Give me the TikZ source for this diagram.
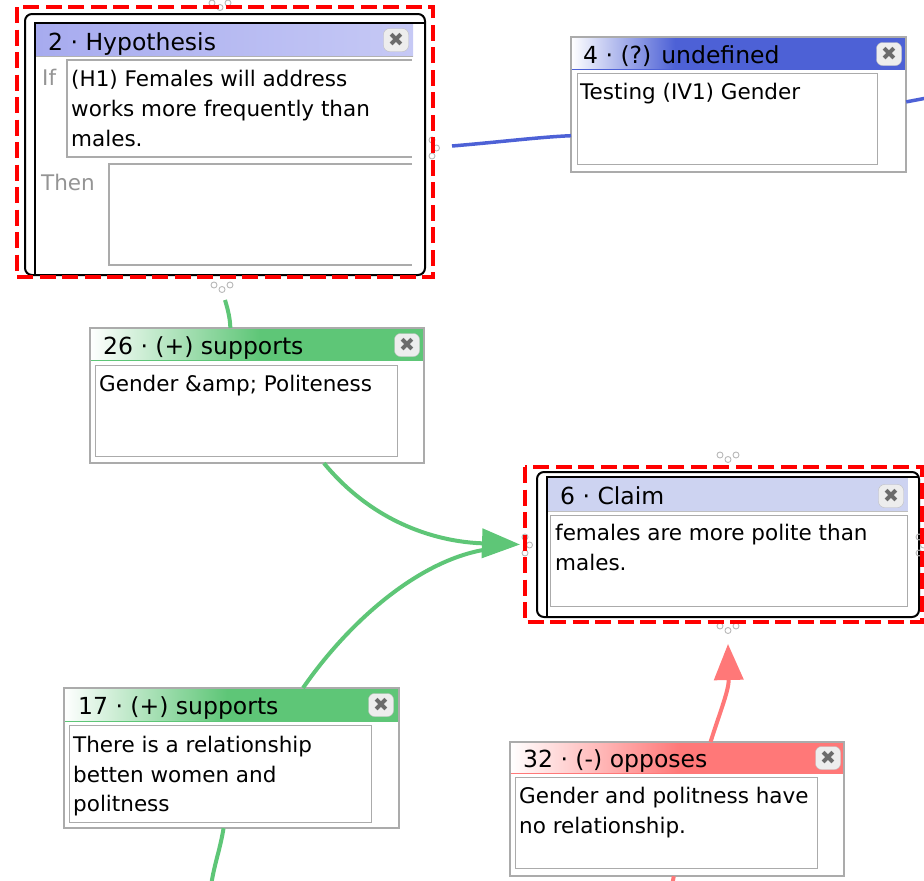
\documentclass[tikz,border=0pt]{standalone}
\usepackage{fontspec}
\setmainfont{DejaVu Sans}
\usetikzlibrary{arrows.meta,calc}
\definecolor{grn}{HTML}{5EC677}
\definecolor{blu}{HTML}{4D61D6}
\definecolor{sal}{HTML}{FF7878}
\definecolor{lav}{HTML}{A7ABEF}
\definecolor{lavl}{HTML}{C6C9F5}
\definecolor{clm}{HTML}{CDD3F1}
\definecolor{bx}{HTML}{ABABAB}
\begin{document}
\begin{tikzpicture}[x=1pt,y=-1pt,
  outerbox/.style={draw=bx, line width=1.2pt, fill=white, inner sep=0pt, anchor=north west},
  txtbox/.style={draw=bx, line width=1.2pt, inner sep=0pt, anchor=north west},
  ttl/.style={anchor=base west, inner sep=0pt, font=\fontsize{23.5}{28}\selectfont},
  body/.style={anchor=base west, inner sep=0pt, font=\fontsize{21.5}{30}\selectfont},
  lbl/.style={anchor=base west, inner sep=0pt, font=\fontsize{21.5}{30}\selectfont, text=black!42},
  closebtn/.style={draw=black!25, fill=black!7, rounded corners=6pt, minimum width=25pt, minimum height=23pt, inner sep=0pt, text=black!58, font=\fontsize{19}{19}\selectfont},
  selframe/.style={draw=black, line width=2pt, rounded corners=7pt, inner sep=0pt, anchor=north west},
  reddash/.style={draw=red, line width=4.6pt, dash pattern=on 16pt off 6.5pt},
  conn/.style={line width=4pt},
  hdl/.style={draw=black!28, line width=0.9pt},
  hh/.pic={\draw[hdl] (-8,-2) circle[radius=3pt] (0,2.5) circle[radius=3pt] (8,-2) circle[radius=3pt];},
  hv/.pic={\draw[hdl] (-2,-8) circle[radius=3pt] (2.5,0) circle[radius=3pt] (-2,8) circle[radius=3pt];},
]
\useasboundingbox (0,0) rectangle (924,881);

% ---------- Hypothesis (2) ----------
\node[selframe, minimum width=400pt, minimum height=261pt] (hyp) at (24,13) {};
\draw[black, line width=1.5pt] (35,274) -- (35,23) -- (424,23);
\shade[left color=lav, right color=lavl] (36,24) rectangle (413,56);
\draw[black!30, line width=0.8pt] (36,56) -- (413,56);
\node[ttl] (hypT) at (48,50) {2 · Hypothesis};
\node[closebtn] (hypX) at (396,40) {✖};
\node[lbl] (hypIf) at (42,85) {If};
\draw[bx, line width=1.2pt] (412,60) -- (67,60) -- (67,157) -- (412,157);
\node[body] (hypL1) at (71,86) {(H1) Females will address};
\node[body] (hypL2) at (71,116) {works more frequently than};
\node[body] (hypL3) at (71,146) {males.};
\node[lbl] (hypThen) at (41,190) {Then};
\draw[bx, line width=1.2pt] (412,164) -- (109,164) -- (109,265) -- (412,265);

% ---------- 4 (?) undefined ----------
\node[outerbox, minimum width=334pt, minimum height=134pt] (n4) at (571,37) {};
\shade[left color=white, right color=blu] (571,37) rectangle (675,69);
\fill[blu] (675,37) rectangle (905,69);
\draw[blu, line width=1pt] (571,69) -- (905,69);
\draw[bx, line width=1.2pt] (n4.north west) rectangle (n4.south east);
\node[ttl] (n4T) at (583,63) {4 · (?) undefined};
\node[closebtn] (n4X) at (889,54) {✖};
\node[txtbox, minimum width=300pt, minimum height=91pt] (n4B) at (577,73) {};
\node[body] (n4L1) at (580,99) {Testing (IV1) Gender};

% ---------- 26 (+) supports ----------
\node[outerbox, minimum width=333pt, minimum height=134pt] (n26) at (90,328) {};
\shade[left color=white, right color=grn] (90,328) rectangle (260,360);
\fill[grn] (260,328) rectangle (423,360);
\draw[grn, line width=1pt] (90,360) -- (423,360);
\draw[bx, line width=1.2pt] (n26.north west) rectangle (n26.south east);
\node[ttl] (n26T) at (103,354) {26 · (+) supports};
\node[closebtn] (n26X) at (407,345) {✖};
\node[txtbox, minimum width=302pt, minimum height=91pt] (n26B) at (95,365) {};
\node[body] (n26L1) at (99,391) {Gender \&amp; Politeness};

% ---------- 6 Claim ----------
\node[selframe, minimum width=382pt, minimum height=145pt] (claim) at (536,471) {};
\draw[black, line width=1.5pt] (547,616) -- (547,477) -- (918,477);
\fill[clm] (548,478) rectangle (908,511);
\draw[black!25, line width=0.8pt] (548,511) -- (908,511);
\node[ttl] (claimT) at (560,504) {6 · Claim};
\node[closebtn] (claimX) at (891,496) {✖};
\node[txtbox, minimum width=357pt, minimum height=91pt] (claimB) at (550,515) {};
\node[body] (claimL1) at (555,540) {females are more polite than};
\node[body] (claimL2) at (555,570) {males.};

% ---------- 17 (+) supports ----------
\node[outerbox, minimum width=334pt, minimum height=139pt] (n17) at (64,688) {};
\shade[left color=white, right color=grn] (64,688) rectangle (227,721);
\fill[grn] (227,688) rectangle (398,721);
\draw[grn, line width=1pt] (64,721) -- (398,721);
\draw[bx, line width=1.2pt] (n17.north west) rectangle (n17.south east);
\node[ttl] (n17T) at (78,714) {17 · (+) supports};
\node[closebtn] (n17X) at (381,705) {✖};
\node[txtbox, minimum width=302pt, minimum height=97pt] (n17B) at (69,725) {};
\node[body] (n17L1) at (73,752) {There is a relationship};
\node[body] (n17L2) at (73,782) {betten women and};
\node[body] (n17L3) at (73,811) {politness};

% ---------- 32 (-) opposes ----------
\node[outerbox, minimum width=333pt, minimum height=133pt] (n32) at (510,742) {};
\shade[left color=white, right color=sal] (510,742) rectangle (680,773);
\fill[sal] (680,742) rectangle (843,773);
\draw[sal, line width=1pt] (510,773) -- (843,773);
\draw[bx, line width=1.2pt] (n32.north west) rectangle (n32.south east);
\node[ttl] (n32T) at (523,767) {32 · (-) opposes};
\node[closebtn] (n32X) at (828,758) {✖};
\node[txtbox, minimum width=302pt, minimum height=91pt] (n32B) at (515,777) {};
\node[body] (n32L1) at (519,803) {Gender and politness have};
\node[body] (n32L2) at (519,833) {no relationship.};

% ---------- connector end points ----------
\coordinate (hypS) at ([yshift=-24pt]hyp.south);
\coordinate (hypE) at ([xshift=26pt,yshift=-1.5pt]hyp.east);
\coordinate (tipG) at ([xshift=-16pt]claim.west);
\coordinate (baseG) at ([xshift=-50pt,yshift=-5pt]claim.west);
\coordinate (tipR) at ([yshift=-26pt]claim.south);
\coordinate (b17) at (211,886);
\coordinate (b32) at (672,886);
\coordinate (r4) at (932,97);

% ---------- connectors ----------
\draw[conn, blu, line width=3.5pt] (hypE) .. controls (500,142) and (540,137) .. ($(n4.south west)!0.27!(n4.north west)$);
\draw[conn, blu, line width=3.5pt] ($(n4.north east)!0.48!(n4.south east)$) -- (r4);
\draw[conn, grn] (hypS) .. controls (228,310) and (230,318) .. ($(n26.north west)!0.42!(n26.north east)$);
\draw[conn, grn, -{Triangle[length=38pt,width=29pt]}] ($(n26.south west)!0.7!(n26.south east)$) .. controls (375,525) and (440,542) .. (tipG);
\draw[conn, grn] ($(n17.north west)!0.713!(n17.north east)$) .. controls (350,620) and (420,560) .. (baseG);
\draw[conn, grn] ($(n17.south west)!0.476!(n17.south east)$) .. controls (220,850) and (214,865) .. (b17);
\draw[conn, sal, -{Triangle[length=36pt,width=29pt]}] ($(n32.north west)!0.6!(n32.north east)$) .. controls (720,712) and (729,690) .. (tipR);
\draw[conn, sal] ($(n32.south west)!0.49!(n32.south east)$) -- (b32);

% ---------- handles ----------
\pic at (220,5) {hh};
\pic at (222,287) {hh};
\pic at (434,148) {hv};
\pic at (728,457) {hh};
\pic at (728,628) {hh};
\pic at (527,545) {hv};
\pic at (921,545) {hv};

% ---------- selection frames ----------
\draw[reddash] (17,7) rectangle (433,277);
\draw[reddash] (525,467) rectangle (922,622);
\end{tikzpicture}
\end{document}
